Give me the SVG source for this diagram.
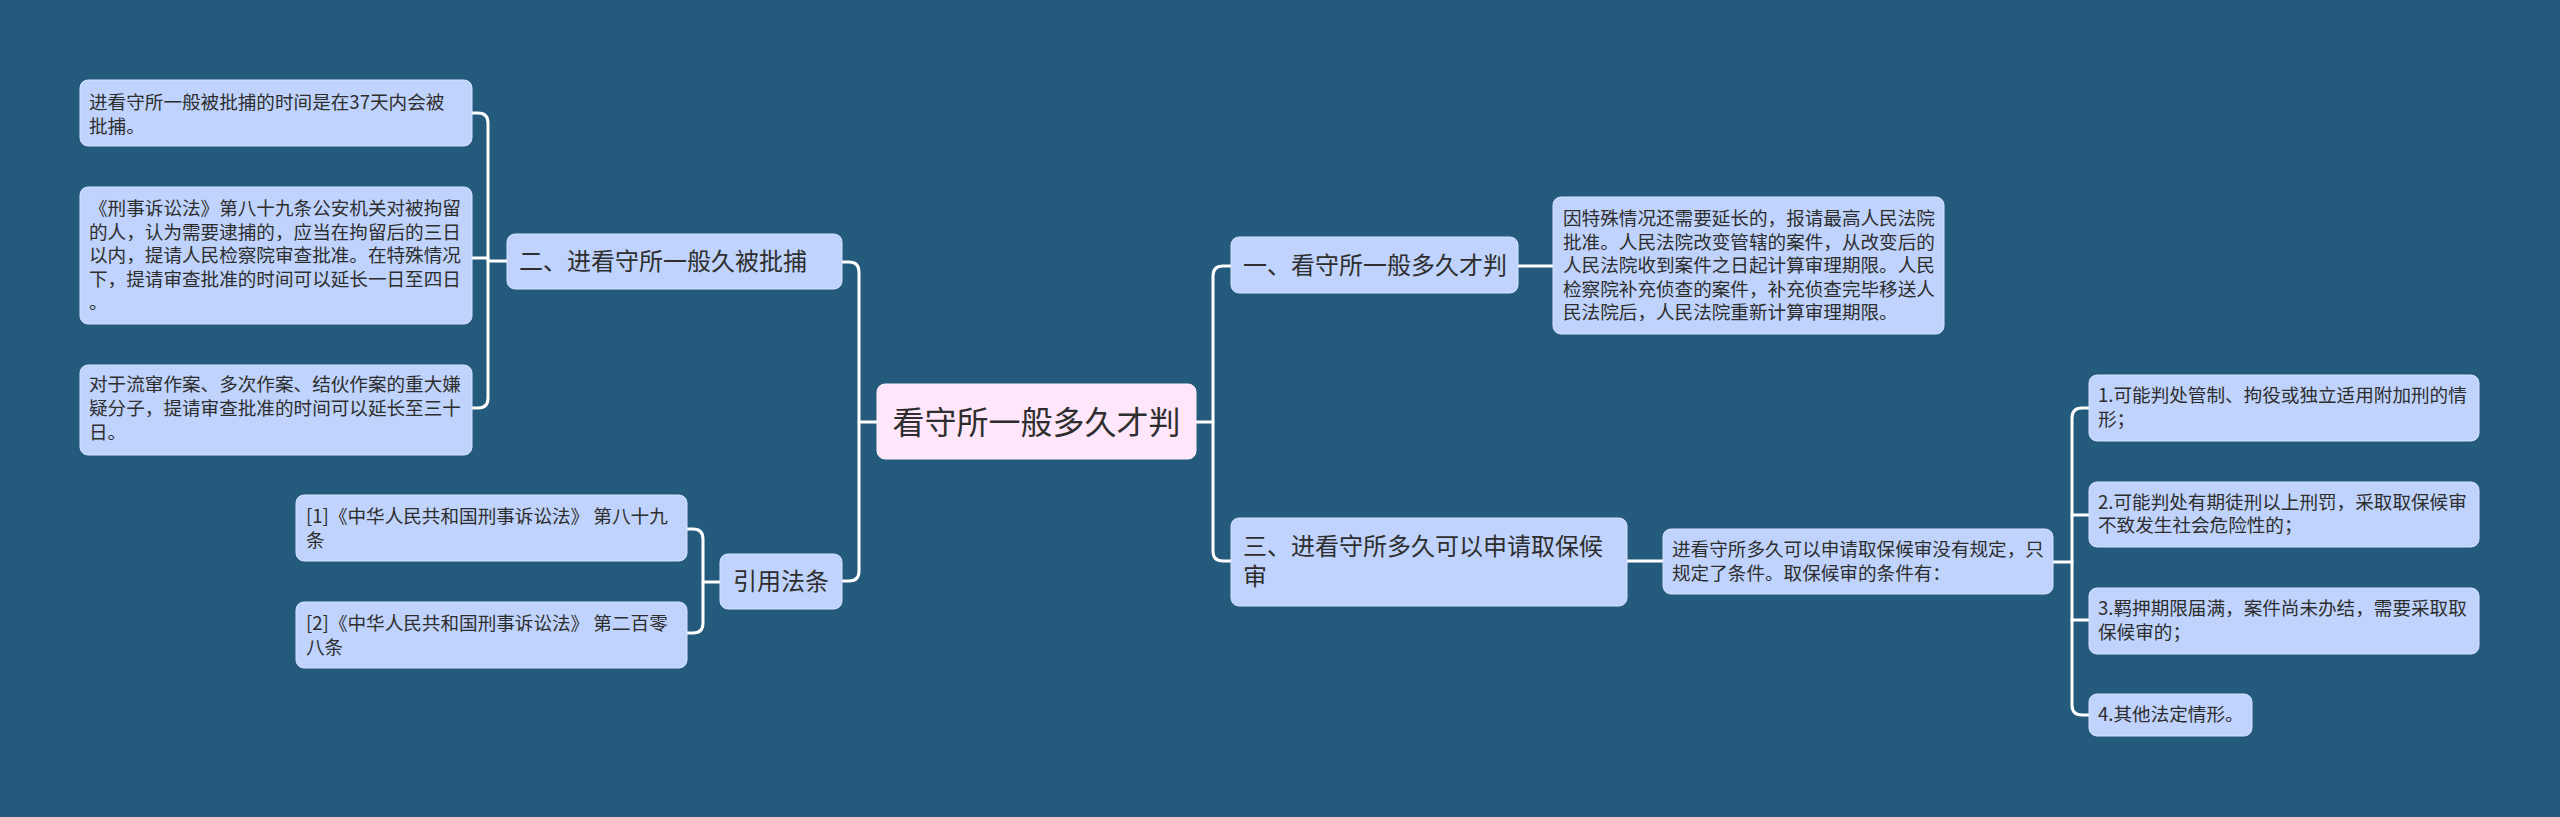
<svg xmlns="http://www.w3.org/2000/svg" width="2560" height="817" viewBox="0 0 2560 817">
<style>
.bg{fill:#245A7C}
.box{fill:#BFD3FC;stroke:#D6E2FF;stroke-width:1}
.root{fill:#FFE6FA;stroke:#FFF0FC;stroke-width:1}
.t{font-family:"Noto Sans CJK SC","Noto Sans",sans-serif;fill:#2E2E2E}
.s{font-size:18.6px}
.m{font-size:24px}
.r{font-size:32px}
.c{fill:none;stroke:#FFFFFF;stroke-width:3;stroke-linecap:round;stroke-linejoin:round}
</style>
<rect class="bg" x="0" y="0" width="2560" height="817"/>
<g id="connectors">
<path class="c" d="M877,422 H859"/>
<path class="c" d="M842,262 H849 Q859,262 859,272 V571 Q859,581 849,581 H842"/>
<path class="c" d="M507,261 H488"/>
<path class="c" d="M472,113 H478 Q488,113 488,123 V398 Q488,408 478,408 H472"/>
<path class="c" d="M472,258 H488"/>
<path class="c" d="M720,582 H703"/>
<path class="c" d="M687,529 H693 Q703,529 703,539 V623 Q703,633 693,633 H687"/>
<path class="c" d="M1196,422 H1213"/>
<path class="c" d="M1231,266 H1223 Q1213,266 1213,276 V551 Q1213,561 1223,561 H1231"/>
<path class="c" d="M1518,266 H1553"/>
<path class="c" d="M1627,561 H1663"/>
<path class="c" d="M2053,562 H2072"/>
<path class="c" d="M2089,408 H2082 Q2072,408 2072,418 V705 Q2072,715 2082,715 H2089"/>
<path class="c" d="M2072,515 H2089"/>
<path class="c" d="M2072,620 H2089"/>
</g>
<g id="root">
<rect class="root" x="877" y="384" width="319" height="75" rx="8"/>
<text class="t r" x="1036.5" y="434" text-anchor="middle">看守所一般多久才判</text>
</g>
<g id="n2">
<rect class="box" x="507" y="234" width="335" height="55" rx="8"/>
<text class="t m" x="519" y="270">二、进看守所一般久被批捕</text>
</g>
<g id="n2a">
<rect class="box" x="80" y="80" width="392" height="66" rx="8"/>
<text class="t s" x="89" y="109">进看守所一般被批捕的时间是在37天内会被</text>
<text class="t s" x="89" y="133">批捕。</text>
</g>
<g id="n2b">
<rect class="box" x="80" y="187" width="392" height="137" rx="8"/>
<text class="t s" x="89" y="215">《刑事诉讼法》第八十九条公安机关对被拘留</text>
<text class="t s" x="89" y="239">的人，认为需要逮捕的，应当在拘留后的三日</text>
<text class="t s" x="89" y="262">以内，提请人民检察院审查批准。在特殊情况</text>
<text class="t s" x="89" y="286">下，提请审查批准的时间可以延长一日至四日</text>
<text class="t s" x="89" y="309">。</text>
</g>
<g id="n2c">
<rect class="box" x="80" y="365" width="392" height="90" rx="8"/>
<text class="t s" x="89" y="391">对于流窜作案、多次作案、结伙作案的重大嫌</text>
<text class="t s" x="89" y="415">疑分子，提请审查批准的时间可以延长至三十</text>
<text class="t s" x="89" y="439">日。</text>
</g>
<g id="ref">
<rect class="box" x="720" y="554" width="122" height="55" rx="8"/>
<text class="t m" x="781" y="590" text-anchor="middle">引用法条</text>
</g>
<g id="ref1">
<rect class="box" x="296" y="495" width="391" height="66" rx="8"/>
<text class="t s" x="306" y="523">[1]《中华人民共和国刑事诉讼法》 第八十九</text>
<text class="t s" x="306" y="547">条</text>
</g>
<g id="ref2">
<rect class="box" x="296" y="602" width="391" height="66" rx="8"/>
<text class="t s" x="306" y="630">[2]《中华人民共和国刑事诉讼法》 第二百零</text>
<text class="t s" x="306" y="654">八条</text>
</g>
<g id="n1">
<rect class="box" x="1231" y="237" width="287" height="56" rx="8"/>
<text class="t m" x="1243" y="274">一、看守所一般多久才判</text>
</g>
<g id="n1a">
<rect class="box" x="1553" y="197" width="391" height="137" rx="8"/>
<text class="t s" x="1563" y="225">因特殊情况还需要延长的，报请最高人民法院</text>
<text class="t s" x="1563" y="248.5">批准。人民法院改变管辖的案件，从改变后的</text>
<text class="t s" x="1563" y="272">人民法院收到案件之日起计算审理期限。人民</text>
<text class="t s" x="1563" y="295.5">检察院补充侦查的案件，补充侦查完毕移送人</text>
<text class="t s" x="1563" y="319">民法院后，人民法院重新计算审理期限。</text>
</g>
<g id="n3">
<rect class="box" x="1231" y="518" width="396" height="88" rx="8"/>
<text class="t m" x="1243" y="555">三、进看守所多久可以申请取保候</text>
<text class="t m" x="1243" y="585">审</text>
</g>
<g id="n3a">
<rect class="box" x="1663" y="529" width="390" height="65" rx="8"/>
<text class="t s" x="1672" y="556">进看守所多久可以申请取保候审没有规定，只</text>
<text class="t s" x="1672" y="580">规定了条件。取保候审的条件有：</text>
</g>
<g id="c1">
<rect class="box" x="2089" y="375" width="390" height="66" rx="8"/>
<text class="t s" x="2098" y="402">1.可能判处管制、拘役或独立适用附加刑的情</text>
<text class="t s" x="2098" y="426">形；</text>
</g>
<g id="c2">
<rect class="box" x="2089" y="482" width="390" height="65" rx="8"/>
<text class="t s" x="2098" y="509">2.可能判处有期徒刑以上刑罚，采取取保候审</text>
<text class="t s" x="2098" y="532">不致发生社会危险性的；</text>
</g>
<g id="c3">
<rect class="box" x="2089" y="588" width="390" height="66" rx="8"/>
<text class="t s" x="2098" y="615">3.羁押期限届满，案件尚未办结，需要采取取</text>
<text class="t s" x="2098" y="639">保候审的；</text>
</g>
<g id="c4">
<rect class="box" x="2089" y="694" width="163" height="42" rx="8"/>
<text class="t s" x="2098" y="721">4.其他法定情形。</text>
</g>
</svg>
